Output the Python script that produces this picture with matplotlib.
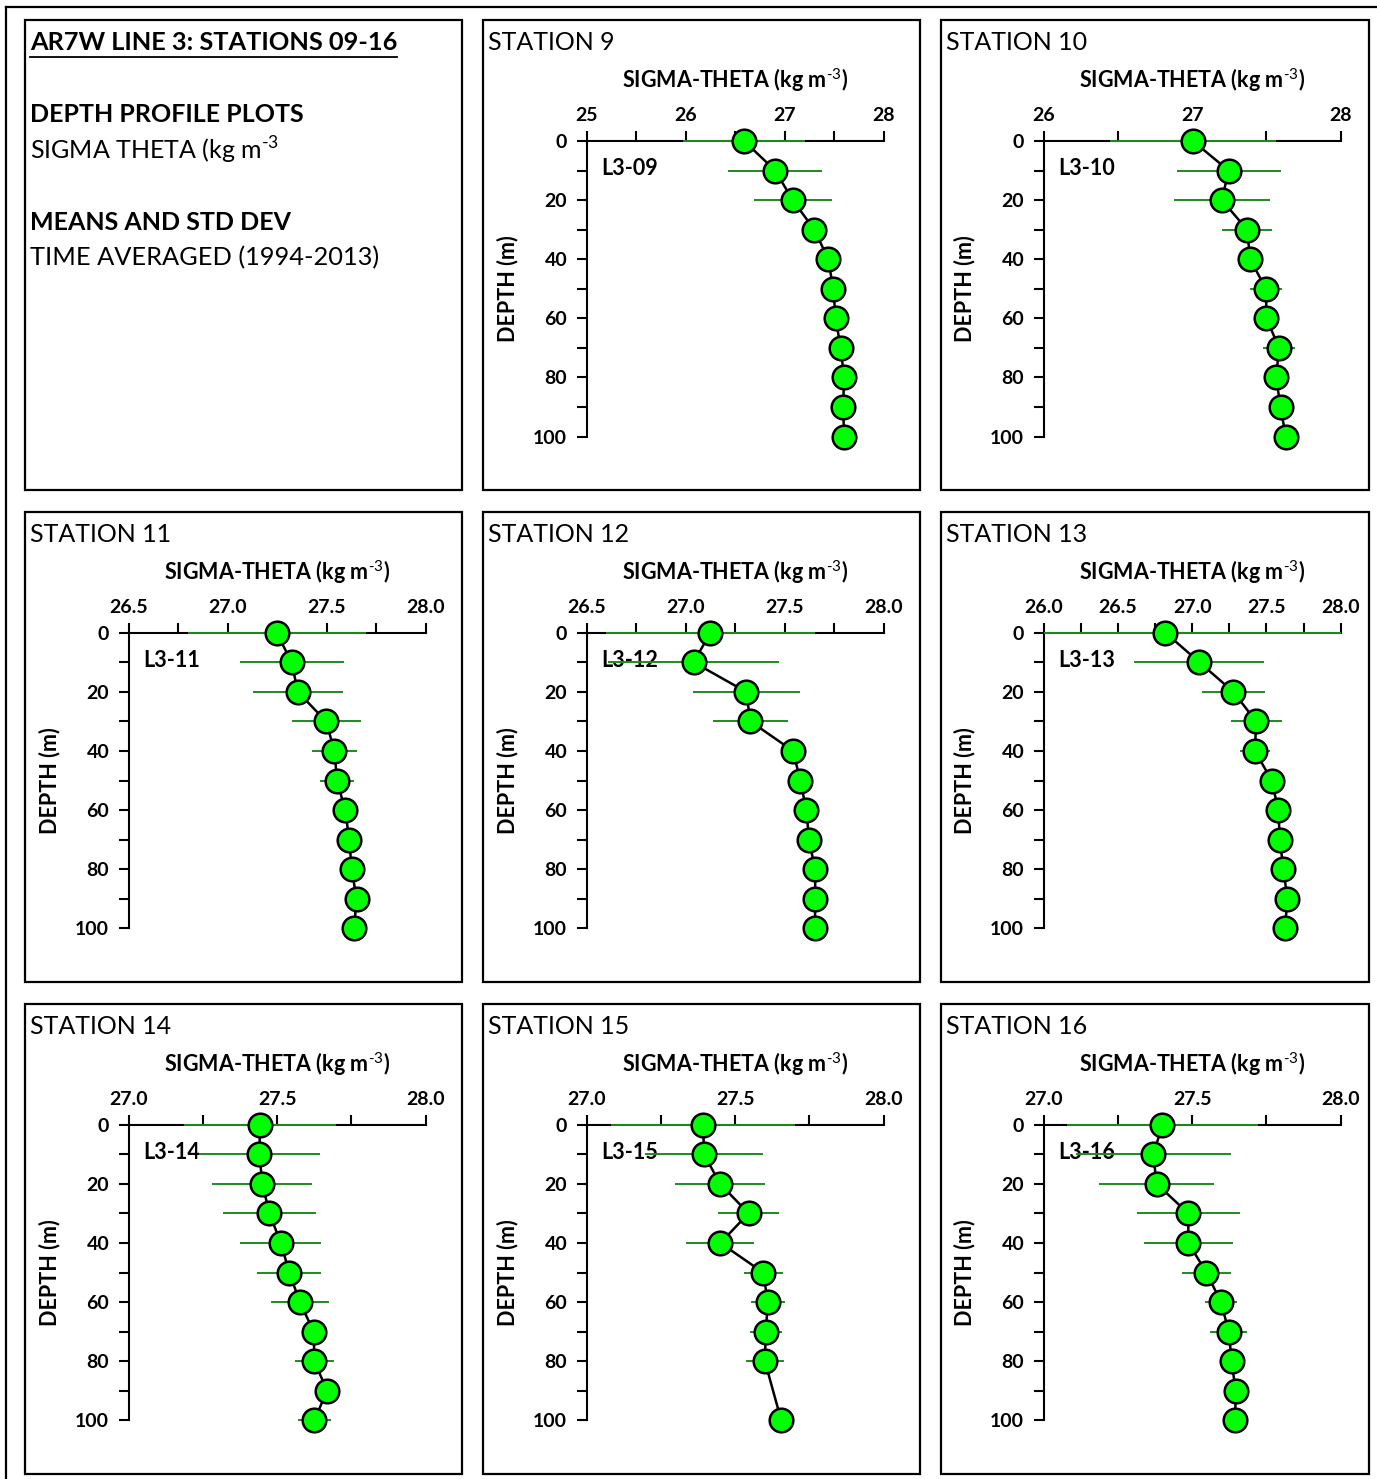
import matplotlib
matplotlib.use('Agg')
import matplotlib.pyplot as plt
import matplotlib.patches as patches
import matplotlib.transforms as mtransforms
from matplotlib.lines import Line2D
from matplotlib.ticker import MultipleLocator, FormatStrFormatter
import numpy as np

plt.rcParams['font.family'] = ['Lato', 'DejaVu Sans']
plt.rcParams['mathtext.fontset'] = 'custom'
plt.rcParams['mathtext.rm'] = 'Lato'
plt.rcParams['mathtext.bf'] = 'Lato:bold'

W, H = 1377, 1479

# ---- data: time averaged sigma-theta means and std dev per depth ----
depth = [0, 10, 20, 30, 40, 50, 60, 70, 80, 90, 100]
depth_15 = [0, 10, 20, 30, 40, 50, 60, 70, 80, 100]   # no 90 m value at station 15

st09_mean = [26.59, 26.905, 27.08, 27.30, 27.44, 27.49, 27.515, 27.565, 27.60, 27.59, 27.60]
st09_sd = [0.62, 0.475, 0.395, 0.08, 0.07, 0.12, 0.06, 0.05, 0.05, 0.05, 0.05]

st10_mean = [27.005, 27.245, 27.20, 27.37, 27.39, 27.497, 27.50, 27.585, 27.565, 27.595, 27.63]
st10_sd = [0.56, 0.35, 0.325, 0.167, 0.08, 0.105, 0.06, 0.11, 0.05, 0.05, 0.05]

st11_mean = [27.247, 27.323, 27.354, 27.497, 27.539, 27.552, 27.593, 27.614, 27.626, 27.651, 27.638]
st11_sd = [0.45, 0.262, 0.228, 0.174, 0.114, 0.087, 0.05, 0.04, 0.04, 0.04, 0.04]

st12_mean = [27.125, 27.04, 27.305, 27.327, 27.542, 27.579, 27.609, 27.623, 27.653, 27.655, 27.652]
st12_sd = [0.53, 0.43, 0.27, 0.19, 0.05, 0.05, 0.04, 0.04, 0.04, 0.04, 0.04]

st13_mean = [26.82, 27.048, 27.277, 27.43, 27.423, 27.535, 27.58, 27.59, 27.614, 27.641, 27.625]
st13_sd = [1.25, 0.438, 0.214, 0.172, 0.098, 0.05, 0.04, 0.04, 0.04, 0.04, 0.04]

st14_mean = [27.442, 27.44, 27.45, 27.474, 27.512, 27.541, 27.576, 27.623, 27.625, 27.668, 27.625]
st14_sd = [0.255, 0.204, 0.168, 0.156, 0.136, 0.108, 0.098, 0.03, 0.066, 0.03, 0.056]

st15_mean = [27.392, 27.395, 27.449, 27.545, 27.45, 27.594, 27.61, 27.603, 27.60, 27.655]
st15_sd = [0.31, 0.20, 0.153, 0.103, 0.114, 0.066, 0.057, 0.053, 0.063, 0.03]

st16_mean = [27.40, 27.369, 27.38, 27.487, 27.487, 27.548, 27.597, 27.623, 27.633, 27.646, 27.645]
st16_sd = [0.321, 0.26, 0.193, 0.173, 0.15, 0.083, 0.053, 0.062, 0.03, 0.03, 0.03]

station_names = ['STATION 9', 'STATION 10', 'STATION 11', 'STATION 12',
                 'STATION 13', 'STATION 14', 'STATION 15', 'STATION 16']
station_tags = ['L3-09', 'L3-10', 'L3-11', 'L3-12', 'L3-13', 'L3-14', 'L3-15', 'L3-16']
station_depths = [depth, depth, depth, depth, depth, depth, depth_15, depth]
station_means = [st09_mean, st10_mean, st11_mean, st12_mean, st13_mean, st14_mean, st15_mean, st16_mean]
station_sds = [st09_sd, st10_sd, st11_sd, st12_sd, st13_sd, st14_sd, st15_sd, st16_sd]

# x axis: (min, max, major step, minor step, label format)
x_axes = [(25, 28, 1, 0.5, '%d'), (26, 28, 1, 0.5, '%d'),
          (26.5, 28, 0.5, 0.25, '%.1f'), (26.5, 28, 0.5, 0.25, '%.1f'),
          (26, 28, 0.5, 0.25, '%.1f'), (27, 28, 0.5, 0.25, '%.1f'),
          (27, 28, 0.5, 0.25, '%.1f'), (27, 28, 0.5, 0.25, '%.1f')]

# ---- layout (pixels) ----
box_x = [25, 483, 941]
box_w = [437, 437, 428]
box_y = [20, 512, 1004]
box_h = 470
ax_x = [128.7, 586.7, 1043.7]
ax_y = [141, 632.7, 1124.7]
ax_w, ax_h = 297, 295.6

fig = plt.figure(figsize=(W / 100, H / 100), dpi=100)


def fx(px):
    return px / W


def fy(py):
    return 1 - py / H


# outer frame (top and left edges visible)
fig.add_artist(Line2D([fx(6), fx(W)], [fy(7), fy(7)], color='black', lw=1.6))
fig.add_artist(Line2D([fx(6), fx(6)], [fy(7), fy(H)], color='black', lw=1.6))

for r in range(3):
    for c in range(3):
        fig.add_artist(patches.Rectangle((fx(box_x[c]), fy(box_y[r] + box_h)),
                                         box_w[c] / W, box_h / H, fill=False,
                                         edgecolor='black', lw=1.6,
                                         transform=fig.transFigure))

# info panel
title = fig.text(fx(30), fy(43), 'AR7W LINE 3: STATIONS 09-16', fontsize=18.3,
                 fontweight='bold', ha='left', va='center')
fig.text(fx(30), fy(115), 'DEPTH PROFILE PLOTS', fontsize=18, fontweight='bold',
         ha='left', va='center')
fig.text(fx(30), fy(150), r'SIGMA THETA (kg m$^{\text{-3}}$', fontsize=18,
         ha='left', va='center')
fig.text(fx(30), fy(223), 'MEANS AND STD DEV', fontsize=18, fontweight='bold',
         ha='left', va='center')
fig.text(fx(30), fy(258), 'TIME AVERAGED (1994-2013)', fontsize=18.3,
         ha='left', va='center')

for i in range(8):
    r, c = divmod(i + 1, 3)
    xmin, xmax, major, minor, fmt = x_axes[i]
    ax = fig.add_axes([fx(ax_x[c]), fy(ax_y[r] + ax_h), ax_w / W, ax_h / H])
    ax.set_facecolor('none')

    dep = np.array(station_depths[i])
    mean = np.array(station_means[i])
    sd = np.array(station_sds[i])
    lo = np.clip(mean - sd, xmin, xmax)
    hi = np.clip(mean + sd, xmin, xmax)

    ax.hlines(dep, lo, hi, color='#1f8a1f', lw=1.4, zorder=3, clip_on=False)
    ax.plot(mean, dep, '-', color='black', lw=1.8, zorder=4, clip_on=False)
    ax.plot(mean, dep, 'o', ms=17, mfc='#00ff00', mec='black', mew=1.8,
            zorder=5, clip_on=False)

    ax.set_xlim(xmin, xmax)
    ax.set_ylim(100, 0)
    ax.xaxis.tick_top()
    ax.set_xticks(np.arange(xmin, xmax + 1e-9, major))
    ax.xaxis.set_minor_locator(MultipleLocator(minor))
    ax.xaxis.set_major_formatter(FormatStrFormatter(fmt))
    ax.set_yticks(np.arange(0, 101, 20))
    ax.yaxis.set_minor_locator(MultipleLocator(10))
    ax.tick_params(which='both', direction='out', length=7, width=1.5,
                   top=True, bottom=False, left=True, right=False)
    ax.tick_params(axis='x', pad=5, labelsize=14)
    ax.tick_params(axis='y', pad=7, labelsize=14)
    for lbl in ax.get_xticklabels() + ax.get_yticklabels():
        lbl.set_fontweight('bold')
    for s in ['bottom', 'right']:
        ax.spines[s].set_visible(False)
    for s in ['top', 'left']:
        ax.spines[s].set_linewidth(1.5)

    trans = mtransforms.blended_transform_factory(ax.transAxes, ax.transData)
    ax.text(0.048, 9.3, station_tags[i], transform=trans, fontsize=15.5,
            fontweight='bold', ha='left', va='center', zorder=2)

    fig.text(fx(box_x[c] + 5), fy(box_y[r] + 23), station_names[i], fontsize=18,
             ha='left', va='center')
    fig.text(fx(ax_x[c] + ax_w / 2), fy(ax_y[r] - 61),
             r'SIGMA-THETA (kg m$^{\text{-3}}$)', fontsize=15.5, fontweight='bold',
             ha='center', va='center')
    fig.text(fx(ax_x[c] - 78.7), fy(ax_y[r] + ax_h / 2), 'DEPTH (m)', fontsize=15.5,
             fontweight='bold', rotation=90, ha='center', va='center')

# underline for the info panel heading
fig.canvas.draw()
bb = title.get_window_extent()
fig.add_artist(Line2D([bb.x0 / W, bb.x1 / W], [fy(57), fy(57)], color='black', lw=1.3))

fig.savefig('out.png', dpi=100)
